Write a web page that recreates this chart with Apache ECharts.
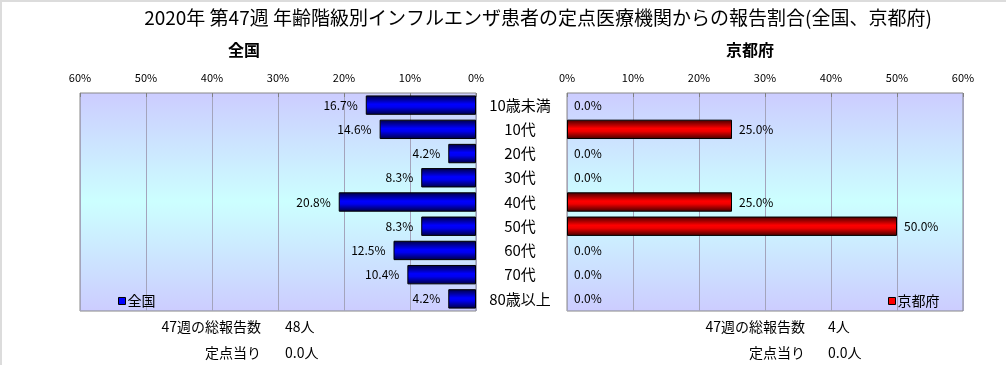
<!DOCTYPE html>
<html>
<head>
<meta charset="utf-8">
<script src="https://cdn.jsdelivr.net/npm/echarts@6/dist/echarts.min.js"></script>
<style>
html,body{margin:0;padding:0;background:#fff;}
#c{width:1006px;height:365px;}
</style>
</head>
<body>
<div id="c"></div>
<script>
const titleText = '2020年 第47週 年齢階級別インフルエンザ患者の定点医療機関からの報告割合(全国、京都府)';
const categories = ['10歳未満','10代','20代','30代','40代','50代','60代','70代','80歳以上'];
const nationalName = '全国';
const kyotoName = '京都府';
const nationalValues = [16.7, 14.6, 4.2, 8.3, 20.8, 8.3, 12.5, 10.4, 4.2];
const kyotoValues = [0.0, 25.0, 0.0, 0.0, 25.0, 50.0, 0.0, 0.0, 0.0];
const axisMax = 60;
const axisStep = 10;
const weekLabel = '47週の総報告数';
const perLabel = '定点当り';
const nationalTotal = '48人';
const kyotoTotal = '4人';
const nationalPer = '0.0人';
const kyotoPer = '0.0人';

const FONT = '"Noto Sans CJK JP", "Noto Sans", sans-serif';
const chart = echarts.init(document.getElementById('c'), null, {renderer: 'canvas'});

const bgGrad = new echarts.graphic.LinearGradient(0, 0, 0, 1, [
  {offset: 0, color: '#ccccff'},
  {offset: 0.5, color: '#ccffff'},
  {offset: 1, color: '#ccccff'}
]);
const blueGrad = new echarts.graphic.LinearGradient(0, 0, 0, 1, [
  {offset: 0, color: '#000040'},
  {offset: 0.45, color: '#0000ff'},
  {offset: 0.6, color: '#0000f0'},
  {offset: 1, color: '#000040'}
]);
const redGrad = new echarts.graphic.LinearGradient(0, 0, 0, 1, [
  {offset: 0, color: '#400000'},
  {offset: 0.45, color: '#ff0000'},
  {offset: 0.6, color: '#f00000'},
  {offset: 1, color: '#400000'}
]);

const gridTop = 93, gridH = 218, gridW = 396;

function xAxisFor(idx, inverse) {
  return {
    type: 'value', gridIndex: idx, position: 'top', inverse: inverse,
    min: 0, max: axisMax, interval: axisStep,
    axisLine: {show: false},
    axisTick: {show: true, inside: true, length: 4, lineStyle: {color: '#808080'}},
    splitLine: {show: true, lineStyle: {color: '#a4a4bc', width: 1}},
    axisLabel: {formatter: '{value}%', fontSize: 11, color: '#000', fontFamily: FONT, margin: 10}
  };
}

function barData(values) {
  return values.map(v => v === 0 ? {value: v, itemStyle: {borderWidth: 0, color: 'rgba(0,0,0,0)', borderColor: 'rgba(0,0,0,0)'}} : {value: v});
}

const option = {
  animation: false,
  backgroundColor: '#ffffff',
  title: {
    text: titleText, left: 533, top: 3, textAlign: 'center',
    textStyle: {fontSize: 19, fontWeight: 'normal', color: '#000', fontFamily: FONT}
  },
  grid: [
    {left: 80, top: gridTop, width: gridW, height: gridH, show: true, backgroundColor: bgGrad, borderColor: '#888888', borderWidth: 1},
    {left: 567, top: gridTop, width: gridW, height: gridH, show: true, backgroundColor: bgGrad, borderColor: '#888888', borderWidth: 1}
  ],
  legend: [
    {data: [{name: nationalName, itemStyle: {color: '#0000ff', borderColor: '#000', borderWidth: 1}}], left: 113, top: 289, icon: 'rect', itemWidth: 7, itemHeight: 7, itemGap: 2,
     textStyle: {fontSize: 14, color: '#000', fontFamily: FONT, padding: [0, 0, 0, -3]}},
    {data: [{name: kyotoName, itemStyle: {color: '#ff0000', borderColor: '#000', borderWidth: 1}}], left: 883, top: 289, icon: 'rect', itemWidth: 7, itemHeight: 7, itemGap: 2,
     textStyle: {fontSize: 14, color: '#000', fontFamily: FONT, padding: [0, 0, 0, -3]}}
  ],
  xAxis: [xAxisFor(0, true), xAxisFor(1, false)],
  yAxis: [
    {type: 'category', gridIndex: 0, data: categories, inverse: true, position: 'right',
     axisLine: {show: false}, axisTick: {show: false},
     axisLabel: {align: 'center', margin: 44, fontSize: 15, color: '#000', fontFamily: FONT}},
    {type: 'category', gridIndex: 1, data: categories, inverse: true,
     axisLine: {show: false}, axisTick: {show: false}, axisLabel: {show: false}}
  ],
  series: [
    {name: nationalName, type: 'bar', xAxisIndex: 0, yAxisIndex: 0, data: barData(nationalValues),
     barWidth: '80%',
     itemStyle: {color: blueGrad, borderColor: '#000', borderWidth: 1},
     label: {show: true, position: 'left', distance: 8, fontSize: 12, color: '#000', fontFamily: FONT,
             formatter: p => p.value.toFixed(1) + '%'}},
    {name: kyotoName, type: 'bar', xAxisIndex: 1, yAxisIndex: 1, data: barData(kyotoValues),
     barWidth: '80%',
     itemStyle: {color: redGrad, borderColor: '#000', borderWidth: 1},
     label: {show: true, position: 'right', distance: 7, fontSize: 12, color: '#000', fontFamily: FONT,
             formatter: p => p.value.toFixed(1) + '%'}}
  ],
  graphic: [
    {type: 'rect', shape: {x: 0, y: 0, width: 1006, height: 2}, style: {fill: '#dcdcdc'}, silent: true},
    {type: 'rect', shape: {x: 0, y: 0, width: 2, height: 365}, style: {fill: '#dcdcdc'}, silent: true},
    {type: 'text', x: 244, y: 50, style: {text: nationalName, fill: '#000', font: 'bold 16px ' + FONT, textAlign: 'center', textVerticalAlign: 'middle'}},
    {type: 'text', x: 750, y: 50, style: {text: kyotoName, fill: '#000', font: 'bold 16px ' + FONT, textAlign: 'center', textVerticalAlign: 'middle'}},
    {type: 'text', x: 261, y: 327, style: {text: weekLabel, font: '14px ' + FONT, fill: '#000', textAlign: 'right', textVerticalAlign: 'middle'}},
    {type: 'text', x: 285, y: 327, style: {text: nationalTotal, font: '14px ' + FONT, fill: '#000', textAlign: 'left', textVerticalAlign: 'middle'}},
    {type: 'text', x: 261, y: 353, style: {text: perLabel, font: '14px ' + FONT, fill: '#000', textAlign: 'right', textVerticalAlign: 'middle'}},
    {type: 'text', x: 285, y: 353, style: {text: nationalPer, font: '14px ' + FONT, fill: '#000', textAlign: 'left', textVerticalAlign: 'middle'}},
    {type: 'text', x: 805, y: 327, style: {text: weekLabel, font: '14px ' + FONT, fill: '#000', textAlign: 'right', textVerticalAlign: 'middle'}},
    {type: 'text', x: 828, y: 327, style: {text: kyotoTotal, font: '14px ' + FONT, fill: '#000', textAlign: 'left', textVerticalAlign: 'middle'}},
    {type: 'text', x: 805, y: 353, style: {text: perLabel, font: '14px ' + FONT, fill: '#000', textAlign: 'right', textVerticalAlign: 'middle'}},
    {type: 'text', x: 828, y: 353, style: {text: kyotoPer, font: '14px ' + FONT, fill: '#000', textAlign: 'left', textVerticalAlign: 'middle'}}
  ]
};
chart.setOption(option);
</script>
</body>
</html>
